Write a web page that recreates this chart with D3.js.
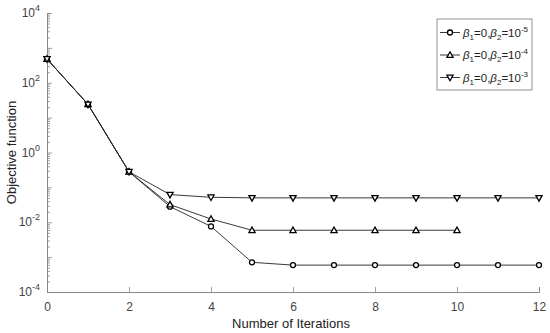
<!DOCTYPE html>
<html>
<head>
<meta charset="utf-8">
<script src="https://cdn.jsdelivr.net/npm/d3@7"></script>
<style>
  body { margin: 0; background: #fff; }
  svg { font-family: "Liberation Sans", Arial, sans-serif; }
</style>
</head>
<body>
<div class="chart"></div>
<script>
// data
var iterations = [0, 1, 2, 3, 4, 5, 6, 7, 8, 9, 10, 11, 12];
var beta5 = [480, 24, 0.28, 0.028, 0.0076, 0.00071, 0.00059, 0.00059, 0.00059, 0.00059, 0.00059, 0.00059, 0.00059];
var beta4 = [480, 24, 0.28, 0.032, 0.0124, 0.0059, 0.0059, 0.0059, 0.0059, 0.0059, 0.0059];
var beta3 = [480, 24, 0.28, 0.062, 0.052, 0.05, 0.05, 0.05, 0.05, 0.05, 0.05, 0.05, 0.05];
var seriesNames = ["-5", "-4", "-3"];
var xTicks = [0, 2, 4, 6, 8, 10, 12];
var yLabelExps = [4, 2, 0, -2, -4];

var series = [
  { exp: seriesNames[0], values: beta5, marker: "circle" },
  { exp: seriesNames[1], values: beta4, marker: "up" },
  { exp: seriesNames[2], values: beta3, marker: "down" }
];

const margin = { top: 13, bottom: 41, left: 47, right: 11 };
var width = 550, height = 333;
var w = width - margin.left - margin.right;
var h = height - margin.top - margin.bottom;

var svg = d3.select("div.chart").append("svg")
  .attr("width", width).attr("height", height);

var chart = svg.append("g")
  .attr("transform", "translate(" + margin.left + "," + margin.top + ")");

var x = d3.scaleLinear().domain([0, 12]).range([0, w]);
var y = d3.scaleLog().domain([1e-4, 1e4]).range([h, 0]);

// y axis: ticks 1..9 per decade pointing inward
var yTickVals = [];
for (var e = -4; e < 4; e++) {
  for (var m = 1; m < 10; m++) yTickVals.push(m * Math.pow(10, e));
}
yTickVals.push(1e4);

var yAxis = chart.append("g")
  .call(d3.axisLeft(y).tickValues(yTickVals).tickSize(-3).tickFormat(""));
yAxis.selectAll(".tick line").attr("stroke", "#888").attr("stroke-width", 0.8)
  .attr("x2", function (d) { return Math.abs(Math.log10(d) % 1) < 1e-9 ? 5 : 3; });
yAxis.select(".domain").attr("stroke", "#888");

yLabelExps.forEach(function (p) {
  var t = chart.append("text")
    .attr("x", -7).attr("y", y(Math.pow(10, p)) + 4)
    .attr("text-anchor", "end").attr("font-size", 12).attr("fill", "#444");
  t.append("tspan").text("10");
  t.append("tspan").attr("dy", -6).attr("font-size", 9).text(p);
});

var xAxis = chart.append("g")
  .attr("transform", "translate(0," + h + ")")
  .call(d3.axisBottom(x).tickValues(xTicks).tickSize(-5).tickPadding(10));
xAxis.selectAll(".tick line").attr("stroke", "#888").attr("stroke-width", 0.8);
xAxis.select(".domain").attr("stroke", "#888");
xAxis.selectAll(".tick text").attr("font-size", 12).attr("fill", "#444")
  .attr("font-family", "Liberation Sans, Arial, sans-serif");

// axis titles
chart.append("text")
  .attr("x", w / 2 - 2).attr("y", h + 36)
  .attr("text-anchor", "middle").attr("font-size", 13).attr("fill", "#222")
  .text("Number of Iterations");
chart.append("text")
  .attr("transform", "translate(" + (-31) + "," + (h / 2) + ") rotate(-90)")
  .attr("text-anchor", "middle").attr("font-size", 13).attr("fill", "#222")
  .text("Objective function");

var line = d3.line()
  .x(function (d, i) { return x(iterations[i]); })
  .y(function (d) { return y(d); });

function drawMarker(g, type, cx, cy) {
  if (type == "circle") {
    g.append("circle").attr("cx", cx).attr("cy", cy).attr("r", 2.5)
      .attr("fill", "#fff").attr("stroke", "#000").attr("stroke-width", 1.3);
  } else {
    var s = 3.1, dir = type == "up" ? 1 : -1;
    var pts = [[cx, cy - dir * s * 1.05], [cx - s, cy + dir * s * 0.75], [cx + s, cy + dir * s * 0.75]];
    g.append("polygon").attr("points", pts.map(function (p) { return p.join(","); }).join(" "))
      .attr("fill", "#fff").attr("stroke", "#000").attr("stroke-width", 1.3);
  }
}

series.forEach(function (s) {
  chart.append("path").datum(s.values)
    .attr("d", line).attr("fill", "none")
    .attr("stroke", "#222").attr("stroke-width", 0.9);
});
series.forEach(function (s) {
  var g = chart.append("g");
  s.values.forEach(function (v, i) { drawMarker(g, s.marker, x(iterations[i]), y(v)); });
});

// legend
var legend = svg.append("g").attr("transform", "translate(437,19)");
legend.append("rect").attr("width", 95).attr("height", 71)
  .attr("fill", "#fff").attr("stroke", "#777").attr("stroke-width", 0.8);
series.forEach(function (s, i) {
  var ly = 13.5 + i * 22.5;
  var row = legend.append("g");
  row.append("line").attr("x1", 3).attr("x2", 23).attr("y1", ly).attr("y2", ly)
    .attr("stroke", "#222").attr("stroke-width", 0.9);
  drawMarker(row, s.marker, 13, ly);
  var t = row.append("text").attr("x", 26).attr("y", ly + 4)
    .attr("font-size", 11.5).attr("fill", "#222");
  t.append("tspan").attr("font-style", "italic").text("β");
  t.append("tspan").attr("dy", 3).attr("font-size", 8).text("1");
  t.append("tspan").attr("dy", -3).text("=0,");
  t.append("tspan").attr("font-style", "italic").text("β");
  t.append("tspan").attr("dy", 3).attr("font-size", 8).text("2");
  t.append("tspan").attr("dy", -3).text("=10");
  t.append("tspan").attr("dy", -5).attr("font-size", 8).text(s.exp);
});
</script>
</body>
</html>
